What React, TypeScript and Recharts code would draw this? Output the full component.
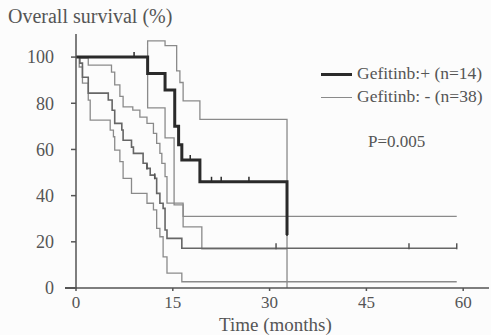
import React from "react";
import { ComposedChart, Line, XAxis, YAxis } from "recharts";

// Gefitinib + (thick)
const plusTimes = [0, 11.1, 13.8, 15.3, 15.9, 16.4, 19.2, 32.7];
const plusSurv = [100, 92.9, 85.7, 70, 62, 55.4, 46, 23];
const plusCensorTimes = [9, 17.7, 21, 22.5, 26.8, 32.7];
const plusCensorSurv = [100, 55.4, 46, 46, 46, 23];

// Gefitinib + confidence band
const plusUpperTimes = [0, 11.1, 13.8, 15.6, 16.1, 16.6, 19.2, 32.7];
const plusUpperSurv = [100, 107, 105, 94, 89, 81, 73, 0];
const plusLowerTimes = [0, 11.1, 13.8, 15.2, 16.6, 59];
const plusLowerSurv = [100, 78, 65, 36, 31, 31];

// Gefitinib - (thin)
const minusTimes = [0, 0.6, 1.0, 1.9, 5.0, 5.6, 6.0, 7.1, 7.3, 8.6, 8.9, 10.4, 11.0, 11.5, 12.2, 12.5, 13.0, 13.5, 13.8, 14.1, 16.4, 59];
const minusSurv = [100, 97.4, 91.3, 84.4, 81.4, 77, 71.3, 68.4, 64, 61, 58.3, 54, 51.8, 48.9, 47.5, 41, 36.7, 34.5, 25.1, 21.5, 17.2, 17.2];
const minusCensorTimes = [11.0, 12.2, 31, 51.6, 59];
const minusCensorSurv = [51.8, 47.5, 17.2, 17.2, 17.2];

// Gefitinib - confidence band
const minusUpperTimes = [0, 0.6, 1.9, 5.5, 6.0, 6.8, 7.3, 8.8, 9.9, 11.0, 12.0, 12.5, 13.0, 13.3, 13.8, 14.1, 16.6, 19.5, 32.7];
const minusUpperSurv = [100, 99.6, 96.5, 93.5, 88, 83, 78.4, 77, 74, 71.3, 67, 62.6, 58.3, 54, 48.2, 36.8, 26.5, 17, 17];
const minusLowerTimes = [0, 0.5, 1.0, 1.9, 2.2, 5.3, 5.8, 6.0, 6.8, 7.3, 8.6, 11.0, 12.0, 12.5, 13.0, 13.5, 14.1, 16.4, 59];
const minusLowerSurv = [100, 95.7, 88.7, 81.4, 72.7, 68.4, 65.5, 59.7, 54.7, 47.5, 41, 36.7, 33.8, 25.8, 22.2, 13.5, 6.4, 2.7, 2.7];

const xTicks = [0, 15, 30, 45, 60];
const yTicks = [0, 20, 40, 60, 80, 100];

const zip = (ts: number[], ss: number[]) => ts.map((t, i) => ({ t, s: ss[i] }));

const FONT = '"Liberation Serif", "Times New Roman", serif';
const INK = "#555";
const THIN = "#8a8a8a";

const CensorTick = (props: any) => {
  const { cx, cy, index, stroke } = props;
  if (cx == null || cy == null) return <g key={index} />;
  return <line key={index} x1={cx} x2={cx} y1={cy - 5} y2={cy + 1} stroke={stroke} strokeWidth={1.5} />;
};

export default function App() {
  const curves = [
    { key: "pu", data: zip(plusUpperTimes, plusUpperSurv), color: THIN, w: 1.3 },
    { key: "pl", data: zip(plusLowerTimes, plusLowerSurv), color: THIN, w: 1.3 },
    { key: "mu", data: zip(minusUpperTimes, minusUpperSurv), color: THIN, w: 1.3 },
    { key: "ml", data: zip(minusLowerTimes, minusLowerSurv), color: THIN, w: 1.3 },
    { key: "m", data: zip(minusTimes, minusSurv), color: "#666", w: 1.6 },
    { key: "p", data: zip(plusTimes, plusSurv), color: "#2a2a2a", w: 3 },
  ];

  return (
    <div style={{ position: "absolute", left: 0, top: 0, width: 491, height: 335, background: "#fcfcfc", fontFamily: FONT, color: INK }}>
      <div style={{ position: "absolute", left: 8, top: 5, fontSize: 20 }}>Overall survival (%)</div>
      <ComposedChart width={491} height={335} margin={{ top: 34, right: 2, bottom: 17, left: 0 }}>
        <XAxis
          type="number"
          dataKey="t"
          domain={[0, 64]}
          ticks={xTicks}
          allowDataOverflow
          height={30}
          tickSize={3}
          tickMargin={5}
          stroke={INK}
          strokeWidth={1.5}
          tick={{ fill: INK, fontSize: 17, fontFamily: FONT }}
        />
        <YAxis
          type="number"
          domain={[0, 110]}
          ticks={yTicks}
          allowDataOverflow
          width={76}
          tickSize={5}
          tickMargin={17}
          stroke={INK}
          strokeWidth={1.5}
          tick={{ fill: INK, fontSize: 18, fontFamily: FONT }}
        />
        {curves.map((c) => (
          <Line
            key={c.key}
            data={c.data}
            dataKey="s"
            type="stepAfter"
            stroke={c.color}
            strokeWidth={c.w}
            dot={false}
            activeDot={false}
            isAnimationActive={false}
          />
        ))}
        <Line
          data={zip(plusCensorTimes, plusCensorSurv)}
          dataKey="s"
          stroke="#2a2a2a"
          strokeWidth={0}
          dot={<CensorTick />}
          activeDot={false}
          isAnimationActive={false}
        />
        <Line
          data={zip(minusCensorTimes, minusCensorSurv)}
          dataKey="s"
          stroke="#555"
          strokeWidth={0}
          dot={<CensorTick />}
          activeDot={false}
          isAnimationActive={false}
        />
      </ComposedChart>
      <div style={{ position: "absolute", left: 65, top: 287, width: 12, height: 1.5, background: INK }} />
      <div style={{ position: "absolute", left: 219, top: 315, fontSize: 19, lineHeight: "20px" }}>Time (months)</div>
      <div style={{ position: "absolute", left: 321, top: 73, width: 31, height: 3, background: "#2a2a2a" }} />
      <div style={{ position: "absolute", left: 357, top: 63, fontSize: 17.5 }}>Gefitinb:+ (n=14)</div>
      <div style={{ position: "absolute", left: 321, top: 97, width: 31, height: 1.3, background: THIN }} />
      <div style={{ position: "absolute", left: 357, top: 86, fontSize: 17.5 }}>Gefitinb: - (n=38)</div>
      <div style={{ position: "absolute", left: 368, top: 132, fontSize: 17 }}>P=0.005</div>
    </div>
  );
}
